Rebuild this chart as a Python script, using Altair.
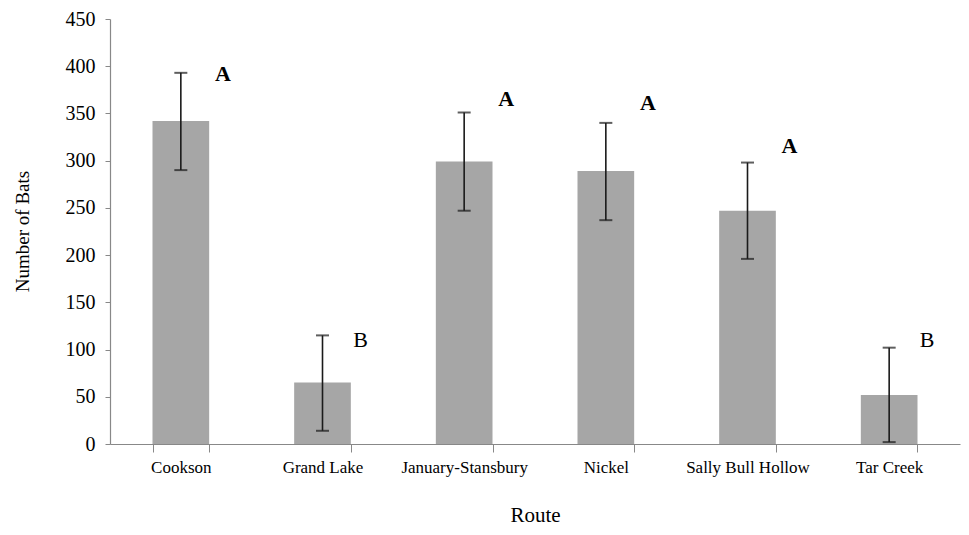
import altair as alt
import pandas as pd

routes = ["Cookson", "Grand Lake", "January-Stansbury", "Nickel", "Sally Bull Hollow", "Tar Creek"]
means = [342, 65, 299, 289, 247, 52]
err_low = [290, 14, 247, 237, 196, 2]
err_high = [393, 115, 351, 340, 298, 102]
letters = ["A", "B", "A", "A", "A", "B"]
letter_y = [392, 110, 365, 361, 316, 110]

df = pd.DataFrame({
    "Route": routes,
    "Bats": means,
    "lo": err_low,
    "hi": err_high,
    "letter": letters,
    "ly": letter_y,
})

FONT = "Liberation Serif"
W, H = 850, 425

x = alt.X("Route:N", sort=routes,
          scale=alt.Scale(paddingInner=0.6, paddingOuter=0.3),
          axis=alt.Axis(title="Route", labelAngle=0, tickBand="extent",
                        tickSize=8, labelPadding=7, labelFontSize=17,
                        titleFontSize=21, titleFontWeight="normal",
                        titleX=W / 2, titleY=71, titleBaseline="middle",
                        titleAnchor="middle", labelFont=FONT, titleFont=FONT))
y = alt.Y("Bats:Q",
          scale=alt.Scale(domain=[0, 450], nice=False),
          axis=alt.Axis(title="Number of Bats", values=list(range(0, 451, 50)),
                        tickSize=5, labelPadding=10, labelFontSize=20,
                        titleFontSize=19, titleFontWeight="normal",
                        titleX=-88, titleY=212, titleAngle=-90,
                        titleBaseline="middle", titleAlign="center",
                        grid=False, labelFont=FONT, titleFont=FONT))

base = alt.Chart(df)
bars = base.mark_bar(color="#a6a6a6").encode(x=x, y=y)
rule = base.mark_rule(color="#1a1a1a", strokeWidth=1.6).encode(
    x=alt.X("Route:N", sort=routes), y=alt.Y("lo:Q"), y2="hi:Q")
cap_lo = base.mark_tick(color="#1a1a1a", size=13, thickness=2, orient="horizontal").encode(
    x=alt.X("Route:N", sort=routes), y=alt.Y("lo:Q"))
cap_hi = base.mark_tick(color="#1a1a1a", size=13, thickness=2, orient="horizontal").encode(
    x=alt.X("Route:N", sort=routes), y=alt.Y("hi:Q"))
txt_a = base.transform_filter(alt.datum.letter == "A").mark_text(
    font=FONT, fontSize=22, fontWeight="bold", dx=42, color="#000").encode(
    x=alt.X("Route:N", sort=routes), y=alt.Y("ly:Q"), text="letter:N")
txt_b = base.transform_filter(alt.datum.letter == "B").mark_text(
    font=FONT, fontSize=22, fontWeight="normal", dx=38, color="#000").encode(
    x=alt.X("Route:N", sort=routes), y=alt.Y("ly:Q"), text="letter:N")

chart = alt.layer(bars, rule, cap_lo, cap_hi, txt_a, txt_b).properties(
    width=W, height=H,
    background="white",
    autosize=alt.AutoSizeParams(type="none"),
    padding={"left": 102, "top": 11, "right": 1, "bottom": 82},
).configure_view(stroke=None).configure_axis(
    domainColor="#888888", tickColor="#888888", labelColor="#000",
    titleColor="#000", labelFont=FONT, titleFont=FONT, domainWidth=1.2
)

chart.save("out.html", embed_options={"renderer": "svg", "actions": False})
